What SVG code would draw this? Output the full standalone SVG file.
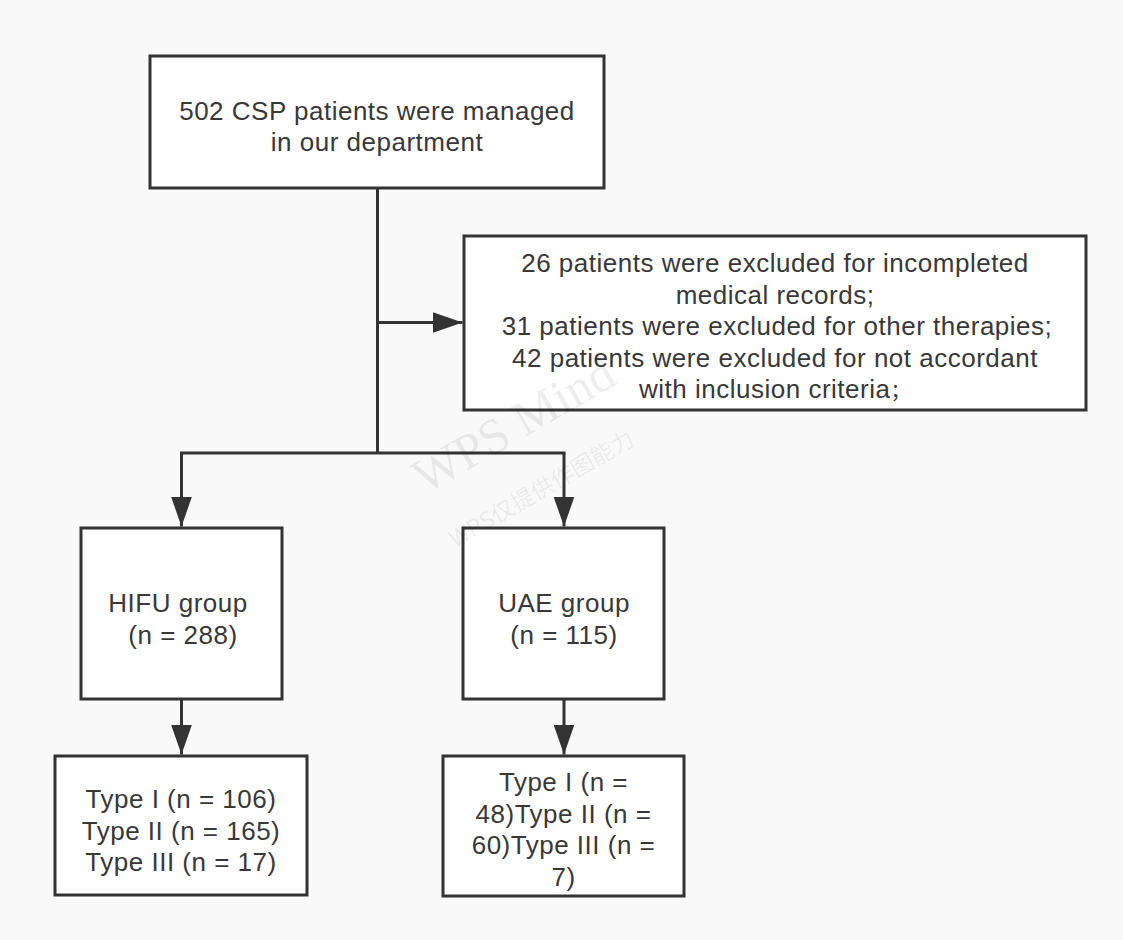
<svg xmlns="http://www.w3.org/2000/svg" width="1123" height="940" viewBox="0 0 1123 940">
<style>
.box{fill:#ffffff;stroke:#333333;stroke-width:3}
.t{font-family:"Liberation Sans",Arial,sans-serif;font-size:26px;letter-spacing:0.5px;fill:#383838;text-anchor:middle}
.c{fill:none;stroke:#333333;stroke-width:3}
.wm{font-family:"Liberation Serif",serif;fill:#000000;fill-opacity:0.07}
.wm2{font-family:"Noto Sans CJK SC",sans-serif;fill:#000000;fill-opacity:0.07}
</style>
<defs>
<marker id="ah" markerUnits="userSpaceOnUse" markerWidth="30" markerHeight="21" refX="30" refY="10.5" orient="auto">
<path d="M0,0 L30,10.5 L0,21 Z" fill="#333333"/>
</marker>
</defs>
<rect x="0" y="0" width="1123" height="940" fill="#f9f9f9"/>
<g id="connectors">
<path class="c" d="M377.5,188 V453"/>
<path class="c" d="M377.5,322.5 H462.5" marker-end="url(#ah)"/>
<path class="c" d="M180,453 H565.5"/>
<path class="c" d="M181.5,453 V526.5" marker-end="url(#ah)"/>
<path class="c" d="M564,453 V526.5" marker-end="url(#ah)"/>
<path class="c" d="M181.5,699 V754.5" marker-end="url(#ah)"/>
<path class="c" d="M564,699 V754.5" marker-end="url(#ah)"/>
</g>
<g id="node-start">
<rect class="box" x="150" y="56" width="454" height="132"/>
<text class="t" x="377" y="119.5">502 CSP patients were managed</text>
<text class="t" x="377" y="151">in our department</text>
</g>
<g id="node-excluded">
<rect class="box" x="464" y="236" width="622" height="174"/>
<text class="t" x="775" y="272">26 patients were excluded for incompleted</text>
<text class="t" x="775" y="303.5">medical records;</text>
<text class="t" x="777" y="335">31 patients were excluded for other therapies;</text>
<text class="t" x="775" y="366.5">42 patients were excluded for not accordant</text>
<text class="t" x="775" y="398">with inclusion criteria<tspan font-family="'Noto Sans CJK SC',sans-serif" font-size="20">；</tspan></text>
</g>
<g id="node-hifu">
<rect class="box" x="81" y="528" width="201" height="171"/>
<text class="t" x="178" y="612">HIFU group</text>
<text class="t" x="183" y="644">(n = 288)</text>
</g>
<g id="node-uae">
<rect class="box" x="463" y="528" width="201" height="171"/>
<text class="t" x="564" y="612">UAE group</text>
<text class="t" x="564" y="644">(n = 115)</text>
</g>
<g id="node-hifu-types">
<rect class="box" x="55" y="756" width="252" height="139"/>
<text class="t" x="181" y="808">Type I (n = 106)</text>
<text class="t" x="181" y="839.5">Type II (n = 165)</text>
<text class="t" x="181" y="871">Type III (n = 17)</text>
</g>
<g id="node-uae-types">
<rect class="box" x="443" y="756" width="241" height="140"/>
<text class="t" x="563.5" y="791">Type I (n =</text>
<text class="t" x="563.5" y="822.5">48)Type II (n =</text>
<text class="t" x="563.5" y="854">60)Type III (n =</text>
<text class="t" x="563.5" y="885.5">7)</text>
</g>
<g id="watermark">
<text class="wm" x="425" y="495" font-size="50" transform="rotate(-30 425 495)">WPS Mind</text>
<text class="wm2" x="455" y="548" font-size="23" transform="rotate(-30 455 548)">WPS仅提供作图能力</text>
</g>
</svg>
